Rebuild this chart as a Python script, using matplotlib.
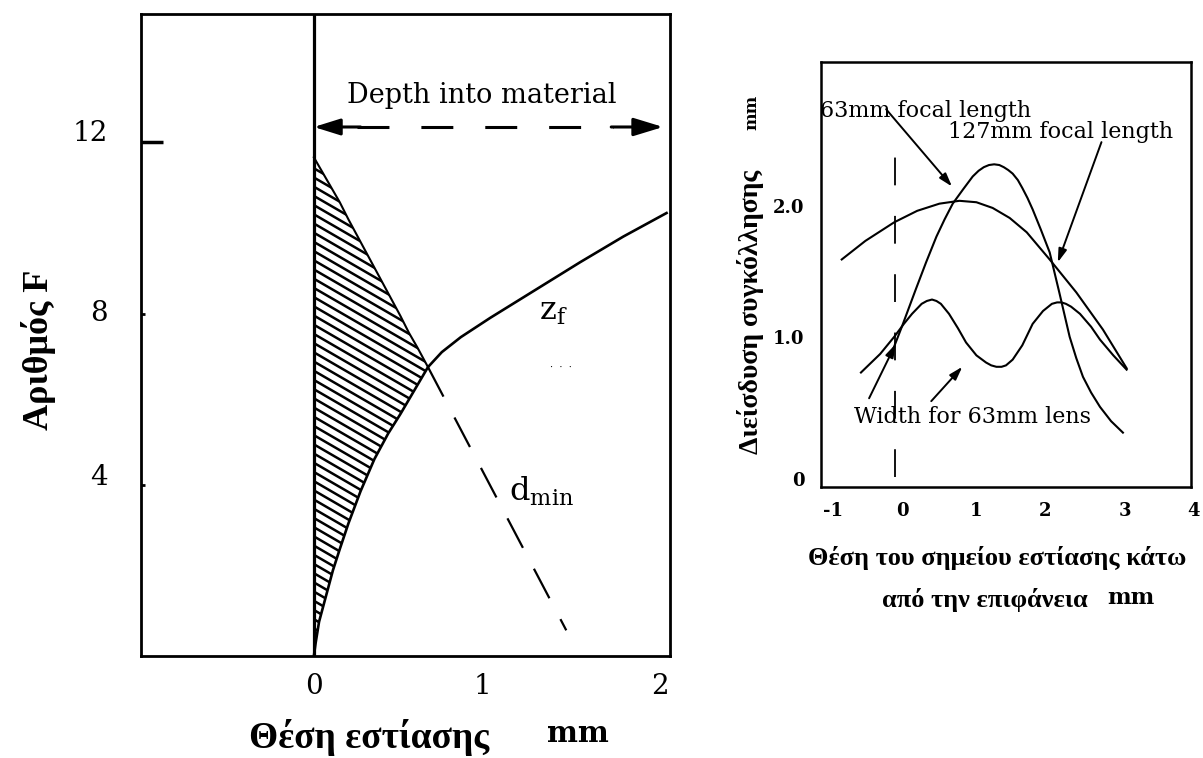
import numpy as np
import matplotlib
matplotlib.use('Agg')
import matplotlib.pyplot as plt
from matplotlib.patches import Polygon
from matplotlib.transforms import ScaledTranslation

plt.rcParams['lines.scale_dashes'] = False
plt.rcParams['font.family'] = ['DejaVu Serif']

# ---------------- Left panel data ----------------
zf_x = [0.0, 0.01, 0.03, 0.07, 0.11, 0.15, 0.20, 0.27, 0.35, 0.43, 0.50, 0.58, 0.66,
        0.74, 0.85, 1.02, 1.28, 1.54, 1.79, 2.04]
zf_y = [0.0, 0.3, 0.8, 1.4, 2.0, 2.5, 3.1, 3.85, 4.6, 5.2, 5.65, 6.2, 6.75,
        7.1, 7.45, 7.9, 8.55, 9.2, 9.8, 10.35]
upper_x = [0.0, 0.05, 0.10, 0.15, 0.20, 0.26, 0.32, 0.38, 0.44, 0.50, 0.55, 0.60, 0.66]
upper_y = [11.65, 11.3, 10.95, 10.6, 10.2, 9.75, 9.3, 8.85, 8.4, 7.95, 7.55, 7.2, 6.75]
dmin_x = [0.66, 1.46]
dmin_y = [6.75, 0.6]
left_xticks = [0, 1, 2]
left_yticks = [4, 8, 12]
depth_x = [0.0, 2.02]
depth_y = 12.36

# ---------------- Right panel data ----------------
r_xticks = [-1, 0, 1, 2, 3, 4]
r_yticks = [0, 1, 2]
r_yticklabels = ['0', '1.0', '2.0']
broad_x = [-0.72, -0.4, -0.01, 0.3, 0.6, 0.87, 1.1, 1.32, 1.55, 1.78, 2.09, 2.45, 2.81, 3.13]
broad_y = [1.59, 1.72, 1.85, 1.93, 1.98, 2.0, 1.99, 1.95, 1.88, 1.78, 1.59, 1.36, 1.10, 0.83]
peak_x = [-0.05, 0.1, 0.28, 0.42, 0.56, 0.67, 0.78, 0.92, 1.05, 1.13, 1.2, 1.27, 1.34, 1.41,
          1.47, 1.53, 1.59, 1.66, 1.72, 1.79, 1.86, 1.97, 2.09, 2.22, 2.36, 2.45, 2.54, 2.65,
          2.77, 2.92, 3.08]
peak_y = [0.93, 1.13, 1.38, 1.57, 1.75, 1.87, 1.98, 2.08, 2.17, 2.21, 2.235, 2.25, 2.255, 2.25,
          2.235, 2.215, 2.19, 2.145, 2.09, 2.02, 1.94, 1.80, 1.64, 1.36, 1.05, 0.9, 0.77, 0.66,
          0.56, 0.46, 0.38]
width_x = [-0.46, -0.2, -0.01, 0.12, 0.23, 0.36, 0.43, 0.50, 0.56, 0.62, 0.73, 0.85, 0.96, 1.1,
           1.23, 1.30, 1.37, 1.44, 1.5, 1.59, 1.72, 1.86, 2.0, 2.12, 2.19, 2.25, 2.31, 2.38, 2.50,
           2.65, 2.77, 2.95, 3.13]
width_y = [0.80, 0.93, 1.05, 1.14, 1.21, 1.28, 1.30, 1.31, 1.30, 1.28, 1.21, 1.11, 1.01, 0.92,
           0.87, 0.85, 0.84, 0.84, 0.85, 0.89, 0.99, 1.14, 1.23, 1.28, 1.29, 1.29, 1.28, 1.26,
           1.21, 1.12, 1.03, 0.92, 0.82]

W, H = 1203, 758
fig = plt.figure(figsize=(W / 100, H / 100), dpi=100)

def box(l, r, t, b):
    return [l / W, 1 - b / H, (r - l) / W, (b - t) / H]

def shift(label, dx_px, dy_px):
    label.set_transform(label.get_transform() +
                        ScaledTranslation(dx_px / 100, dy_px / 100, fig.dpi_scale_trans))

# ================= LEFT PANEL =================
ax = fig.add_axes(box(141, 670, 14, 656))
ax.set_xlim(-1.0, 2.06)
ax.set_ylim(0, 15)
for s in ax.spines.values():
    s.set_linewidth(2.0)

# hatched region
n_low = zf_x.index(0.66) + 1
poly_x = list(zf_x[:n_low]) + list(upper_x[::-1])
poly_y = list(zf_y[:n_low]) + list(upper_y[::-1])
patch = Polygon(np.column_stack([poly_x, poly_y]), closed=True, facecolor='none',
                edgecolor='none')
ax.add_patch(patch)
slope = 2.34
for c in np.arange(0.0, 14.0, 0.215):
    xs = np.array([0.0, 1.0])
    ln, = ax.plot(xs, c - slope * xs, color='black', lw=1.8, solid_capstyle='butt')
    ln.set_clip_path(patch)

ax.plot(zf_x, zf_y, color='black', lw=1.9)
ax.plot(upper_x, upper_y, color='black', lw=1.5)
ax.plot(dmin_x, dmin_y, color='black', lw=1.6, dashes=(24, 17))
ax.axvline(0, color='black', lw=2.3)

# depth arrow
ax.plot([depth_x[0] + 0.25, depth_x[1] - 0.29], [depth_y, depth_y], color='black', lw=2.2,
        dashes=(23, 23))
ax.annotate('', xy=(depth_x[0], depth_y), xytext=(depth_x[0] + 0.27, depth_y),
            arrowprops=dict(arrowstyle='-|>,head_length=1.6,head_width=0.5', color='black',
                            lw=2.2, shrinkA=0, shrinkB=0))
ax.annotate('', xy=(depth_x[1], depth_y), xytext=(depth_x[1] - 0.3, depth_y),
            arrowprops=dict(arrowstyle='-|>,head_length=1.8,head_width=0.55', color='black',
                            lw=2.2, shrinkA=0, shrinkB=0))
ax.text(0.97, 13.1, 'Depth into material', ha='center', va='center', fontsize=19.5)
ax.text(1.30, 8.05, r'$\mathregular{z_f}$', ha='left', va='center', fontsize=23)
ax.text(1.43, 6.75, '·  ·  ·', ha='center', va='center', fontsize=7)
ax.text(1.13, 3.85, r'$\mathregular{d_{min}}$', ha='left', va='center', fontsize=23)

ax.set_xticks(left_xticks)
ax.set_xticklabels([str(v) for v in left_xticks], fontsize=20)
ax.tick_params(axis='x', length=0, pad=12)
for lab, dx in zip(ax.get_xticklabels(), [0, -4, 0]):
    shift(lab, dx, 0)
ax.set_yticks(left_yticks)
ax.set_yticklabels([str(v) for v in left_yticks], fontsize=20)
ax.tick_params(axis='y', direction='in', length=3, width=2, pad=24)
ticks = ax.yaxis.get_major_ticks()
ticks[-1].tick1line.set_markersize(16)
ticks[-1].tick1line.set_markeredgewidth(2.5)
for lab, dy in zip(ax.get_yticklabels(), [10, 3, 12]):
    shift(lab, 0, dy)

fig.text(38 / W, 1 - 350 / H, 'Αριθμός F', rotation=90, ha='center', va='center',
         fontsize=26, fontweight='bold', family='Liberation Serif')
fig.text(369 / W, 1 - 737 / H, 'Θέση εστίασης', ha='center', va='center',
         fontsize=27, fontweight='bold', family='Liberation Serif')
fig.text(578 / W, 1 - 733 / H, 'mm', ha='center', va='center',
         fontsize=21, fontweight='bold', family='DejaVu Serif')

# ================= RIGHT PANEL =================
ax2 = fig.add_axes(box(821, 1191, 62, 487))
ax2.set_xlim(-1, 4)
ax2.set_ylim(0, 2.97)
for s in ax2.spines.values():
    s.set_linewidth(1.8)

ax2.plot(broad_x, broad_y, color='black', lw=1.5)
ax2.plot(peak_x, peak_y, color='black', lw=1.5)
ax2.plot(width_x, width_y, color='black', lw=1.5)
ax2.plot([0, 0], [0.07, 2.38], color='black', lw=1.3, dashes=(20, 22))

tfs = 16
ax2.text(-1.02, 2.63, '63mm focal length', ha='left', va='center', fontsize=tfs)
ax2.text(0.71, 2.48, '127mm focal length', ha='left', va='center', fontsize=tfs)
ax2.text(-0.56, 0.49, 'Width for 63mm lens', ha='left', va='center', fontsize=tfs)
aprops = dict(arrowstyle='-|>,head_length=0.8,head_width=0.25', color='black', lw=1.4,
              shrinkA=0, shrinkB=0)
ax2.annotate('', xy=(0.77, 2.10), xytext=(-0.12, 2.64), arrowprops=aprops)
ax2.annotate('', xy=(2.2, 1.57), xytext=(2.79, 2.41), arrowprops=aprops)
ax2.annotate('', xy=(0.01, 1.0), xytext=(-0.35, 0.62), arrowprops=aprops)
ax2.annotate('', xy=(0.91, 0.84), xytext=(0.49, 0.60), arrowprops=aprops)

ax2.set_xticks(r_xticks)
ax2.set_xticklabels([str(v) for v in r_xticks], fontsize=13, fontweight='bold')
ax2.tick_params(axis='x', length=0, pad=11)
for lab, dx in zip(ax2.get_xticklabels(), [12, 7, 7, 2, 8, 2]):
    shift(lab, dx, 0)
ax2.set_yticks(r_yticks)
ax2.set_yticklabels(r_yticklabels, fontsize=13, fontweight='bold')
ax2.tick_params(axis='y', length=0, pad=12)
for lab, dy in zip(ax2.get_yticklabels(), [8, 7, -5]):
    shift(lab, 0, dy)

fig.text(750 / W, 1 - 312 / H, 'Διείσδυση συγκόλλησης', rotation=90, ha='center',
         va='center', fontsize=20, fontweight='bold', family='Liberation Serif')
fig.text(752 / W, 1 - 112 / H, 'mm', rotation=90, ha='center', va='center',
         fontsize=12, fontweight='bold', family='DejaVu Serif')
fig.text(997 / W, 1 - 558 / H, 'Θέση του σημείου εστίασης κάτω', ha='center', va='center',
         fontsize=19, fontweight='bold', family='Liberation Serif')
fig.text(985 / W, 1 - 600 / H, 'από την επιφάνεια', ha='center', va='center',
         fontsize=19, fontweight='bold', family='Liberation Serif')
fig.text(1131 / W, 1 - 598 / H, 'mm', ha='center', va='center',
         fontsize=16, fontweight='bold', family='DejaVu Serif')

fig.savefig('out.png', dpi=100)
